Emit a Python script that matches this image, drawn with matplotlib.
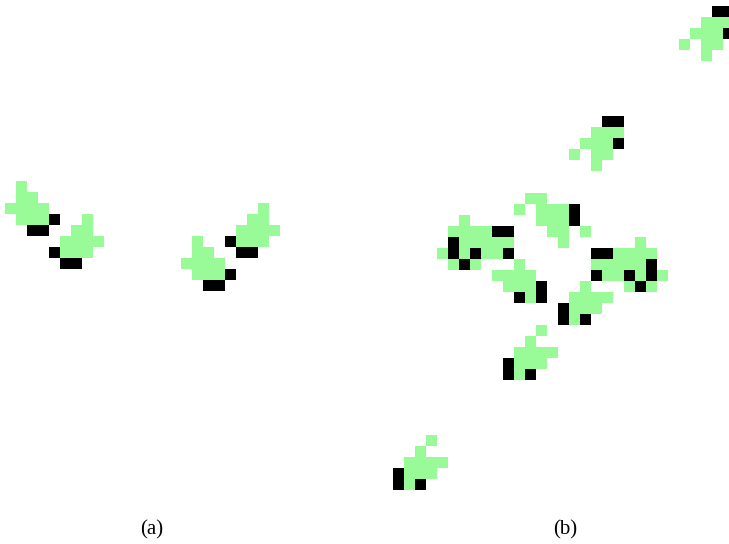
import matplotlib
matplotlib.use("Agg")
import matplotlib.pyplot as plt
from matplotlib.colors import ListedColormap
import numpy as np

# panel (a): 10 x 25 cells, (row, col)
a_rows, a_cols = 10, 25
a_green = [(0, 1), (1, 1), (1, 2), (2, 0), (2, 1), (2, 2), (2, 3),
           (3, 1), (3, 2), (3, 3), (3, 7), (4, 6), (4, 7),
           (5, 5), (5, 6), (5, 7), (5, 8), (6, 5), (6, 6), (6, 7),
           (2, 23), (3, 22), (3, 23), (4, 21), (4, 22), (4, 23), (4, 24),
           (5, 21), (5, 22), (5, 23), (5, 17), (6, 17), (6, 18),
           (7, 16), (7, 17), (7, 18), (7, 19), (8, 17), (8, 18), (8, 19)]
a_black = [(3, 4), (4, 2), (4, 3), (6, 4), (7, 5), (7, 6),
           (5, 20), (6, 21), (6, 22), (8, 20), (9, 18), (9, 19)]

# panel (b): 44 x 31 cells
b_rows, b_cols = 44, 31
b_green = [(1, 28), (1, 29), (1, 30), (2, 27), (2, 28), (2, 29),
           (3, 26), (3, 28), (3, 29), (4, 28),
           (11, 18), (11, 19), (11, 20), (12, 17), (12, 18), (12, 19),
           (13, 16), (13, 18), (13, 19), (14, 18),
           (17, 12), (17, 13),
           (18, 11), (18, 13), (18, 14), (18, 15),
           (19, 6), (19, 13), (19, 14), (19, 15),
           (20, 5), (20, 6), (20, 7), (20, 8), (20, 14), (20, 15), (20, 17),
           (21, 6), (21, 7), (21, 8), (21, 9), (21, 10), (21, 15), (21, 22),
           (22, 4), (22, 6), (22, 8), (22, 9), (22, 20), (22, 21), (22, 22), (22, 23),
           (23, 5), (23, 7), (23, 11), (23, 18), (23, 19), (23, 20), (23, 21), (23, 22),
           (24, 9), (24, 10), (24, 11), (24, 12), (24, 19), (24, 20), (24, 22), (24, 24),
           (25, 10), (25, 11), (25, 12), (25, 17), (25, 21), (25, 23),
           (26, 12), (26, 16), (26, 17), (26, 18), (26, 19),
           (27, 16), (27, 17), (27, 18), (28, 16),
           (29, 13), (30, 12), (31, 11), (31, 12), (31, 13), (31, 14),
           (32, 11), (32, 12), (32, 13), (33, 11),
           (39, 3), (40, 2), (41, 1), (41, 2), (41, 3), (41, 4),
           (42, 1), (42, 2), (42, 3), (43, 1)]
b_black = [(0, 29), (0, 30), (2, 30), (10, 19), (10, 20), (12, 20),
           (18, 16), (19, 16), (20, 9), (20, 10), (21, 5),
           (22, 5), (22, 7), (22, 10), (22, 18), (22, 19),
           (23, 6), (23, 23), (24, 18), (24, 21), (24, 23),
           (25, 13), (25, 22), (26, 11), (26, 13),
           (27, 15), (28, 15), (28, 17),
           (32, 10), (33, 10), (33, 12),
           (42, 0), (43, 0), (43, 2)]


def make_grid(nr, nc, green, black):
    g = np.zeros((nr, nc))
    for r, c in green:
        g[r, c] = 1
    for r, c in black:
        g[r, c] = 2
    return g


cmap = ListedColormap(["white", "#98fb98", "black"])
W, H = 729, 544
fig = plt.figure(figsize=(W / 100, H / 100), dpi=100)

# pixel boxes (left, top, width, height)
ax_a = fig.add_axes([5 / W, 1 - (181 + 11 * a_rows) / H, 11 * a_cols / W, 11 * a_rows / H])
ax_b = fig.add_axes([393 / W, 1 - (6 + 11 * b_rows) / H, 11 * b_cols / W, 11 * b_rows / H])

ax_a.imshow(make_grid(a_rows, a_cols, a_green, a_black), cmap=cmap, vmin=0, vmax=2,
            interpolation="nearest", aspect="auto")
ax_b.imshow(make_grid(b_rows, b_cols, b_green, b_black), cmap=cmap, vmin=0, vmax=2,
            interpolation="nearest", aspect="auto")
ax_a.axis("off")
ax_b.axis("off")

fig.text(152 / W, 1 - 530 / H, "(a)", ha="center", va="center",
         family="Liberation Serif", fontsize=15)
fig.text(565 / W, 1 - 530 / H, "(b)", ha="center", va="center",
         family="Liberation Serif", fontsize=15)

fig.savefig("out.png", dpi=100)
